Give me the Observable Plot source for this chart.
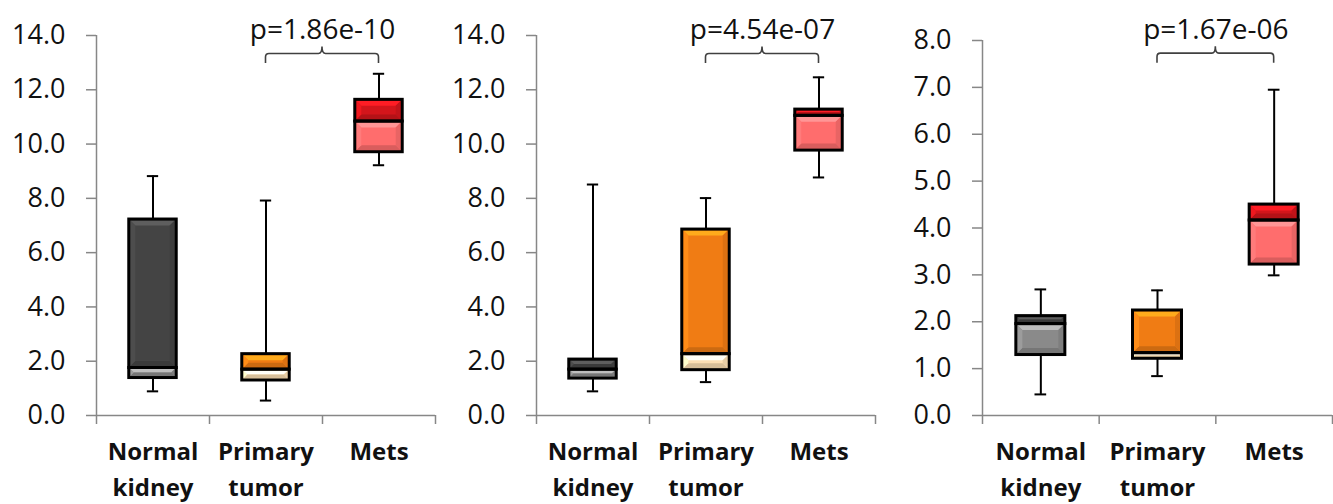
<!DOCTYPE html>
<html><head><meta charset="utf-8">
<script src="https://cdn.jsdelivr.net/npm/d3@7"></script>
<script src="https://cdn.jsdelivr.net/npm/@observablehq/plot@0.6"></script>
<style>
html,body{margin:0;padding:0;background:#fff;}
#row{display:flex;flex-direction:row;width:1333px;height:504px;overflow:hidden;}
#row svg{display:block;flex:none;}
</style></head><body><div id="row"></div>
<script>
// ---- data ----
const categories = ["Normal\nkidney", "Primary\ntumor", "Mets"];
const pLabels = ["p=1.86e-10", "p=4.54e-07", "p=1.67e-06"];
const bracePair = [1, 2];
const braceLevels = [13.32, 13.32, 7.72];
const yTicksA = [0, 2, 4, 6, 8, 10, 12, 14];
const yTicksB = [0, 1, 2, 3, 4, 5, 6, 7, 8];

// panel 1
const low1 = [0.89, 0.55, 9.22];
const q1_1 = [1.38, 1.29, 9.70];
const med1 = [1.75, 1.69, 10.83];
const q3_1 = [7.22, 2.26, 11.63];
const high1 = [8.82, 7.92, 12.59];
// panel 2
const low2 = [0.89, 1.23, 8.77];
const q1_2 = [1.36, 1.67, 9.76];
const med2 = [1.69, 2.26, 11.04];
const q3_2 = [2.06, 6.85, 11.27];
const high2 = [8.51, 8.01, 12.46];
// panel 3
const low3 = [0.45, 0.84, 2.99];
const q1_3 = [1.29, 1.21, 3.22];
const med3 = [1.95, 1.33, 4.16];
const q3_3 = [2.12, 2.24, 4.50];
const high3 = [2.69, 2.67, 6.95];

const upperColors = ["#444444", "#f07c14", "#d3151b"];
const lowerColors = ["#8a8a8a", "#fde0b4", "#ff6d6d"];

// ---- helpers ----
const AXIS = "#878787";
const FONT = "'Open Sans', 'Noto Sans', sans-serif";
const HW = 0.21;

function braceMark(level) {
  return (index, scales) => {
    const xL = scales.x(bracePair[0] + 0.5), xR = scales.x(bracePair[1] + 0.5);
    const xm = (xL + xR) / 2, yb = scales.y(level);
    const drop = 9.5, rise = 7, r = 3.5;
    const d = `M${xL},${yb + drop} L${xL},${yb + r} Q${xL},${yb} ${xL + r},${yb} L${xm - r},${yb} Q${xm},${yb} ${xm},${yb - rise} Q${xm},${yb} ${xm + r},${yb} L${xR - r},${yb} Q${xR},${yb} ${xR},${yb + r} L${xR},${yb + drop}`;
    return d3.create("svg:path").attr("d", d).attr("fill", "none")
      .attr("stroke", "#404040").attr("stroke-width", 1.6).node();
  };
}

function bevelMark(segs) {
  return (index, scales) => {
    const g = d3.create("svg:g");
    for (const s of segs) {
      const x0 = scales.x(s.i + 0.5 - HW) + 1.5, x1 = scales.x(s.i + 0.5 + HW) - 1.5;
      const yT = scales.y(s.y2) + 1.5, yB = scales.y(s.y1) - 1.5;
      const h = yB - yT, w = x1 - x0;
      if (h <= 0) continue;
      const b = Math.min(5, h / 2, w / 2);
      const c = d3.color(s.fill);
      const polys = [
        [[[x0, yT], [x1, yT], [x1 - b, yT + b], [x0 + b, yT + b]], c.brighter(0.9)],
        [[[x0, yB], [x1, yB], [x1 - b, yB - b], [x0 + b, yB - b]], c.darker(0.45)],
        [[[x0, yT], [x0 + b, yT + b], [x0 + b, yB - b], [x0, yB]], c.brighter(0.35)],
        [[[x1, yT], [x1 - b, yT + b], [x1 - b, yB - b], [x1, yB]], c.darker(0.25)]
      ];
      for (const [pts, col] of polys) {
        g.append("path").attr("d", "M" + pts.map(p => p.join(",")).join("L") + "Z")
          .attr("fill", col.formatHex());
      }
    }
    return g.node();
  };
}

function makePanel(k, low, q1, med, q3, high, yTicks, width, marginLeft, marginRight, marginTop) {
  const rows = categories.map((c, i) => ({i, c, low: low[i], q1: q1[i], med: med[i], q3: q3[i], high: high[i]}));
  const segs = [];
  rows.forEach(r => {
    segs.push({i: r.i, y1: r.q1, y2: r.med, fill: lowerColors[r.i]});
    segs.push({i: r.i, y1: r.med, y2: r.q3, fill: upperColors[r.i]});
  });
  const yMax = yTicks[yTicks.length - 1];
  return Plot.plot({
    width, height: 504,
    marginLeft, marginRight, marginTop, marginBottom: 89,
    style: {fontFamily: FONT, background: "white", overflow: "visible"},
    x: {domain: [0, categories.length], axis: null},
    y: {domain: [0, yMax], axis: null},
    color: {type: "identity"},
    marks: [
      Plot.axisY({ticks: yTicks, tickFormat: d3.format(".1f"), tickSize: 10, tickPadding: 21,
        fontSize: 27, stroke: AXIS, strokeWidth: 1.5, fill: "#111"}),
      Plot.axisX({ticks: d3.range(categories.length + 1), tickFormat: () => "", tickSize: 9,
        stroke: AXIS, strokeWidth: 1.5}),
      Plot.axisX({ticks: categories.map((c, i) => i + 0.5), tickFormat: v => categories[Math.floor(v)],
        tickSize: 0, tickPadding: 19, fontSize: 24, fontWeight: "bold", lineHeight: 1.5, fill: "#111"}),
      Plot.ruleX([0], {y1: 0, y2: yMax, stroke: AXIS, strokeWidth: 1.5}),
      Plot.ruleY([0], {x1: 0, x2: categories.length, stroke: AXIS, strokeWidth: 1.5}),
      Plot.ruleX(rows, {x: d => d.i + 0.5, y1: "low", y2: "q1", stroke: "black", strokeWidth: 2}),
      Plot.ruleX(rows, {x: d => d.i + 0.5, y1: "q3", y2: "high", stroke: "black", strokeWidth: 2}),
      Plot.ruleY(rows, {y: "low", x1: d => d.i + 0.45, x2: d => d.i + 0.55, stroke: "black", strokeWidth: 2}),
      Plot.ruleY(rows, {y: "high", x1: d => d.i + 0.45, x2: d => d.i + 0.55, stroke: "black", strokeWidth: 2}),
      Plot.rect(segs, {x1: d => d.i + 0.5 - HW, x2: d => d.i + 0.5 + HW, y1: "y1", y2: "y2", fill: "fill"}),
      bevelMark(segs),
      Plot.rect(segs, {x1: d => d.i + 0.5 - HW, x2: d => d.i + 0.5 + HW, y1: "y1", y2: "y2",
        fill: "none", stroke: "black", strokeWidth: 3}),
      braceMark(braceLevels[k]),
      Plot.text([pLabels[k]], {x: (bracePair[0] + bracePair[1] + 1) / 2, y: braceLevels[k], text: d => d,
        fontSize: 28, fill: "#111", lineAnchor: "middle", dy: -24})
    ]
  });
}

const row = document.getElementById("row");
row.appendChild(makePanel(0, low1, q1_1, med1, q3_1, high1, yTicksA, 440, 96, 5, 35));
row.appendChild(makePanel(1, low2, q1_2, med2, q3_2, high2, yTicksA, 440, 96, 5, 35));
row.appendChild(makePanel(2, low3, q1_3, med3, q3_3, high3, yTicksB, 453, 102, 1, 40));
</script></body></html>
